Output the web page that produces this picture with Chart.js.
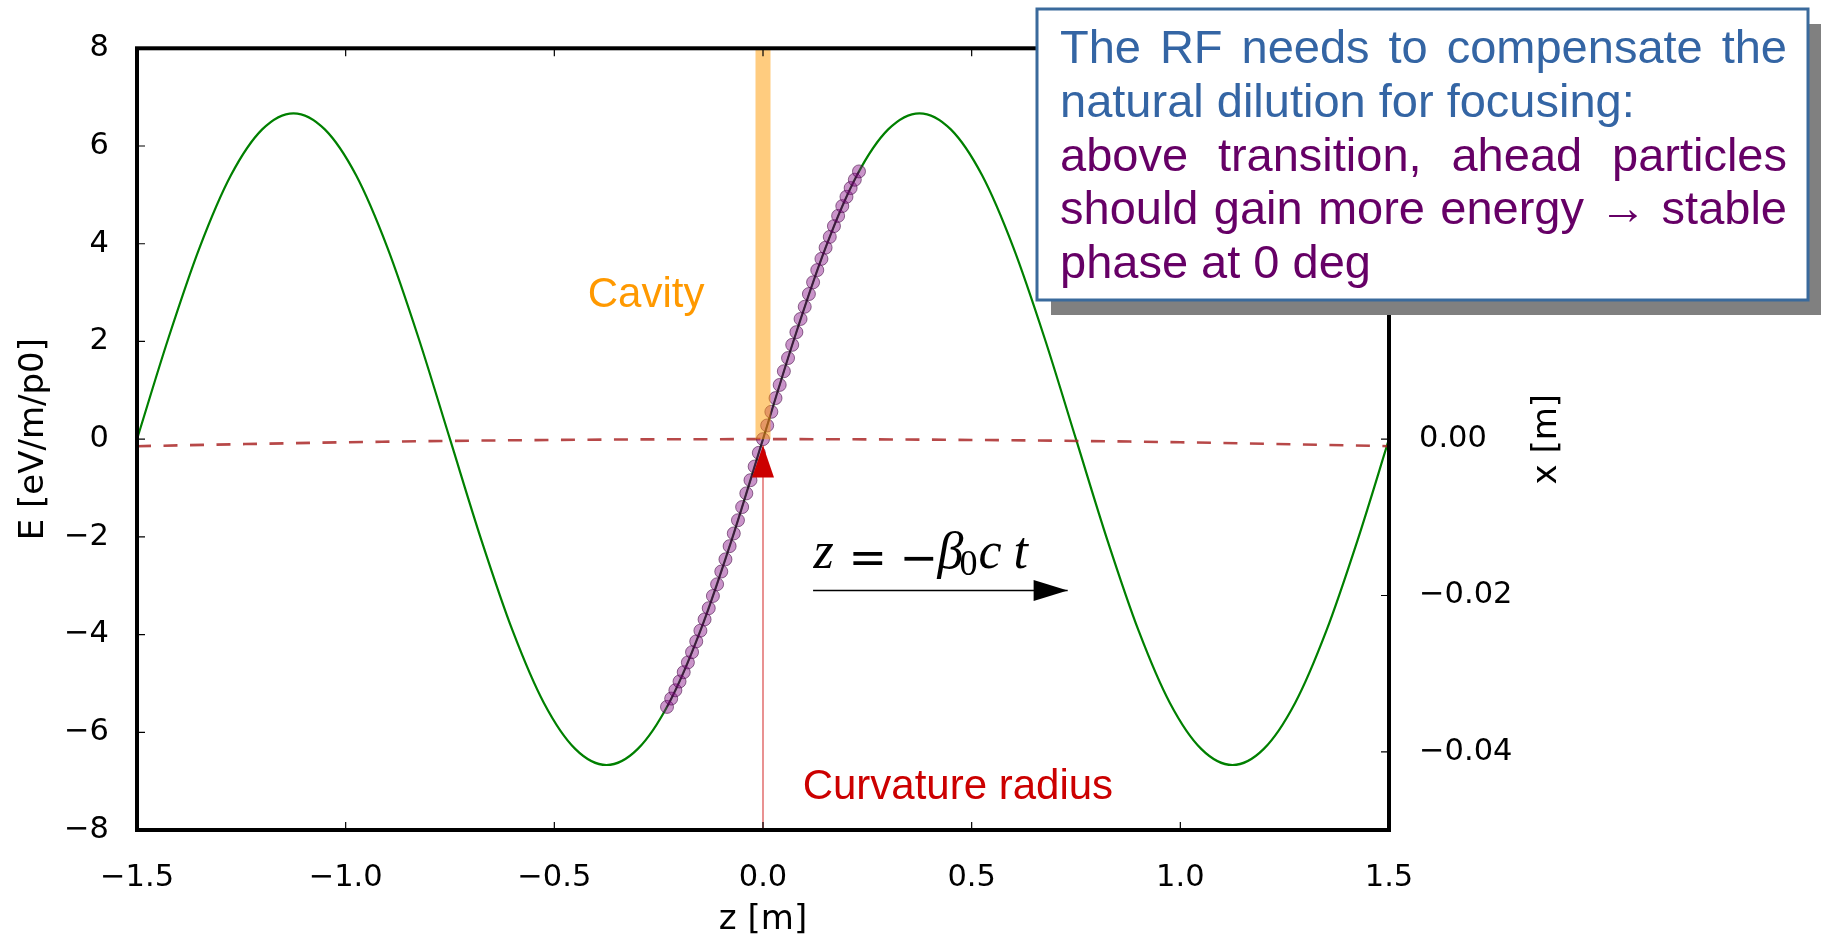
<!DOCTYPE html>
<html>
<head>
<meta charset="utf-8">
<title>RF focusing</title>
<script src="https://cdn.jsdelivr.net/npm/chart.js@4.4.1/dist/chart.umd.min.js"></script>
<style>
  html, body { margin: 0; padding: 0; background: #fff; }
  #wrap { width: 1821px; height: 937px; }
</style>
</head>
<body>
<div id="wrap"><canvas id="rfChart" width="1821" height="937"></canvas></div>
<script>
// RF field seen along the bunch, E [eV/m/p0] vs z [m]
const rfZ = [-1.5, -1.425, -1.35, -1.275, -1.2, -1.125, -1.05, -0.975, -0.9, -0.825,
             -0.75, -0.675, -0.6, -0.525, -0.45, -0.375, -0.3, -0.225, -0.15, -0.075,
             0, 0.075, 0.15, 0.225, 0.3, 0.375, 0.45, 0.525, 0.6, 0.675,
             0.75, 0.825, 0.9, 0.975, 1.05, 1.125, 1.2, 1.275, 1.35, 1.425, 1.5];
const rfE = [0, 2.06, 3.92, 5.40, 6.34, 6.67, 6.34, 5.40, 3.92, 2.06,
             0, -2.06, -3.92, -5.40, -6.34, -6.67, -6.34, -5.40, -3.92, -2.06,
             0, 2.06, 3.92, 5.40, 6.34, 6.67, 6.34, 5.40, 3.92, 2.06,
             0, -2.06, -3.92, -5.40, -6.34, -6.67, -6.34, -5.40, -3.92, -2.06, 0];

// reference orbit x [m] (right axis), bent with the curvature radius
const orbitZ = [-1.5, -1.0, -0.5, 0, 0.5, 1.0, 1.5];
const orbitX = [-0.0009, -0.0004, -0.0001, 0, -0.0001, -0.0004, -0.0009];

// macro-particles sitting on the RF wave
const bunchZ = [-0.23, -0.22, -0.21, -0.20, -0.19, -0.18, -0.17, -0.16, -0.15, -0.14,
                -0.13, -0.12, -0.11, -0.10, -0.09, -0.08, -0.07, -0.06, -0.05, -0.04,
                -0.03, -0.02, -0.01, 0, 0.01, 0.02, 0.03, 0.04, 0.05, 0.06,
                0.07, 0.08, 0.09, 0.10, 0.11, 0.12, 0.13, 0.14, 0.15, 0.16,
                0.17, 0.18, 0.19, 0.20, 0.21, 0.22, 0.23];
const bunchE = [-5.48, -5.31, -5.14, -4.96, -4.77, -4.57, -4.36, -4.14, -3.92, -3.69,
                -3.46, -3.21, -2.97, -2.71, -2.46, -2.19, -1.93, -1.66, -1.39, -1.11,
                -0.84, -0.56, -0.28, 0, 0.28, 0.56, 0.84, 1.11, 1.39, 1.66,
                1.93, 2.19, 2.46, 2.71, 2.97, 3.21, 3.46, 3.69, 3.92, 4.14,
                4.36, 4.57, 4.77, 4.96, 5.14, 5.31, 5.48];

// cavity location and the curvature-radius arrow (tail, tip)
const cavityZ = [0, 0];
const cavityE = [0, 8];
const radiusZ = [0, 0];
const radiusE = [-8, -0.13];

// direction of motion arrow (tail, tip)
const beamZ = [0.12, 0.73];
const beamE = [-3.1, -3.1];

// tick labels
const zTicks = [-1.5, -1.0, -0.5, 0.0, 0.5, 1.0, 1.5];
const eTicks = [-8, -6, -4, -2, 0, 2, 4, 6, 8];
const xTicks = [-0.04, -0.02, 0.00, 0.02, 0.04];

const pts = (xs, ys) => xs.map((v, i) => ({ x: v, y: ys[i] }));
const minus = s => s.replace('-', '\u2212');

const TICK_FONT = { family: 'DejaVu Sans', size: 30.5 };

const decorPlugin = {
  id: 'decor',
  afterDatasetsDraw(chart) {
    const { ctx, chartArea: a, scales } = chart;
    const sx = scales.x, sy = scales.y, sr = scales.y2;
    ctx.save();

    // curvature radius arrow head
    let tx = sx.getPixelForValue(radiusZ[1]);
    let ty = sy.getPixelForValue(radiusE[1]);
    ctx.fillStyle = '#cc0000';
    ctx.beginPath();
    ctx.moveTo(tx, ty);
    ctx.lineTo(tx - 11, ty + 32);
    ctx.lineTo(tx + 11, ty + 32);
    ctx.closePath();
    ctx.fill();

    // beam direction arrow head
    tx = sx.getPixelForValue(beamZ[1]);
    ty = sy.getPixelForValue(beamE[1]);
    ctx.fillStyle = '#000';
    ctx.beginPath();
    ctx.moveTo(tx, ty);
    ctx.lineTo(tx - 34, ty - 10.5);
    ctx.lineTo(tx - 34, ty + 10.5);
    ctx.closePath();
    ctx.fill();

    // inward ticks
    ctx.strokeStyle = '#000';
    ctx.lineWidth = 1.2;
    ctx.beginPath();
    zTicks.forEach(v => {
      const p = sx.getPixelForValue(v);
      ctx.moveTo(p, a.bottom); ctx.lineTo(p, a.bottom - 8);
      ctx.moveTo(p, a.top); ctx.lineTo(p, a.top + 8);
    });
    eTicks.forEach(v => {
      const p = sy.getPixelForValue(v);
      ctx.moveTo(a.left, p); ctx.lineTo(a.left + 8, p);
    });
    xTicks.forEach(v => {
      const p = sr.getPixelForValue(v);
      ctx.moveTo(a.right, p); ctx.lineTo(a.right - 8, p);
    });
    ctx.stroke();

    // frame
    ctx.lineWidth = 4;
    ctx.strokeRect(a.left, a.top, a.right - a.left, a.bottom - a.top);

    // annotations
    ctx.textAlign = 'left';
    ctx.textBaseline = 'alphabetic';
    ctx.font = '42px "Liberation Sans", Arial, sans-serif';
    ctx.fillStyle = '#ff9900';
    ctx.fillText('Cavity', sx.getPixelForValue(-0.42), sy.getPixelForValue(2.7));
    ctx.fillStyle = '#cc0000';
    ctx.fillText('Curvature radius', sx.getPixelForValue(0.095), sy.getPixelForValue(-7.37));

    // z = -beta0 c t
    const fx = sx.getPixelForValue(0.121);
    const fy = sy.getPixelForValue(-2.63);
    ctx.fillStyle = '#000';
    ctx.font = 'italic 52px "Liberation Serif", serif';
    ctx.fillText('z', fx, fy);
    ctx.fillText('\u03b2', fx + 124, fy);
    ctx.fillText('c', fx + 165, fy);
    ctx.fillText('t', fx + 200, fy);
    ctx.font = '46px "DejaVu Sans", sans-serif';
    ctx.fillText('=', fx + 35, fy + 5);
    ctx.fillText('\u2212', fx + 86, fy + 5);
    ctx.font = '36px "Liberation Serif", serif';
    ctx.fillText('0', fx + 146, fy + 7);

    // axis titles
    ctx.font = '34px "DejaVu Sans", sans-serif';
    ctx.textAlign = 'center';
    const midY = (a.top + a.bottom) / 2;
    ctx.fillText('z [m]', (a.left + a.right) / 2, a.bottom + 99);
    ctx.save();
    ctx.translate(a.left - 94, midY);
    ctx.rotate(-Math.PI / 2);
    ctx.fillText('E [eV/m/p0]', 0, 0);
    ctx.restore();
    ctx.save();
    ctx.translate(a.right + 167, midY);
    ctx.rotate(-Math.PI / 2);
    ctx.fillText('x [m]', 0, 0);
    ctx.restore();

    ctx.restore();
  },
  afterDraw(chart) {
    const ctx = chart.ctx;
    const bx = 1037, by = 9, bw = 771, bh = 291;
    ctx.save();
    // box with drop shadow
    ctx.fillStyle = '#808080';
    ctx.fillRect(bx + 14, by + 15, bw, bh);
    ctx.fillStyle = '#fff';
    ctx.fillRect(bx, by, bw, bh);
    ctx.strokeStyle = '#3a6a9c';
    ctx.lineWidth = 3;
    ctx.strokeRect(bx, by, bw, bh);

    const lines = [
      { text: 'The RF needs to compensate the', color: '#3465a4', justify: true },
      { text: 'natural dilution for focusing:', color: '#3465a4', justify: false },
      { text: 'above transition, ahead particles', color: '#660066', justify: true },
      { text: 'should gain more energy \u2192 stable', color: '#660066', justify: true },
      { text: 'phase at 0 deg', color: '#660066', justify: false }
    ];
    // full lines are justified, paragraph ends are set ragged
    const x0 = 1060, x1 = 1787;
    ctx.font = '47px "Liberation Sans", Arial, sans-serif';
    ctx.textAlign = 'left';
    ctx.textBaseline = 'alphabetic';
    const space = ctx.measureText(' ').width;
    lines.forEach((ln, i) => {
      const y = 63 + 53.8 * i;
      ctx.fillStyle = ln.color;
      const words = ln.text.split(' ');
      const widths = words.map(w => ctx.measureText(w).width);
      const gap = ln.justify
        ? (x1 - x0 - widths.reduce((s, w) => s + w, 0)) / (words.length - 1)
        : space;
      let x = x0;
      words.forEach((w, k) => {
        ctx.fillText(w, x, y);
        x += widths[k] + gap;
      });
    });
    ctx.restore();
  }
};

new Chart(document.getElementById('rfChart'), {
  type: 'scatter',
  data: {
    datasets: [
      {
        label: 'RF',
        data: pts(rfZ, rfE),
        yAxisID: 'y',
        showLine: true,
        borderColor: '#008000',
        borderWidth: 2.2,
        pointRadius: 0,
        cubicInterpolationMode: 'monotone',
        order: 6
      },
      {
        label: 'orbit',
        data: pts(orbitZ, orbitX),
        yAxisID: 'y2',
        showLine: true,
        borderColor: 'rgba(170,40,40,0.85)',
        borderWidth: 2.6,
        borderDash: [14, 12.5],
        pointRadius: 0,
        cubicInterpolationMode: 'monotone',
        order: 5
      },
      {
        label: 'bunch',
        data: pts(bunchZ, bunchE),
        yAxisID: 'y',
        showLine: true,
        borderColor: 'rgba(30,0,30,0.7)',
        borderWidth: 1.5,
        pointRadius: 6.5,
        pointBackgroundColor: 'rgba(128,0,128,0.42)',
        pointBorderColor: 'rgba(60,0,60,0.55)',
        pointBorderWidth: 1,
        order: 4
      },
      {
        label: 'cavity',
        data: pts(cavityZ, cavityE),
        yAxisID: 'y',
        showLine: true,
        borderColor: 'rgba(255,153,0,0.5)',
        borderWidth: 15,
        borderCapStyle: 'butt',
        pointRadius: 0,
        order: 3
      },
      {
        label: 'radius',
        data: pts(radiusZ, radiusE),
        yAxisID: 'y',
        showLine: true,
        borderColor: 'rgba(210,30,30,0.75)',
        borderWidth: 1.3,
        pointRadius: 0,
        order: 2
      },
      {
        label: 'direction',
        data: pts(beamZ, beamE),
        yAxisID: 'y',
        showLine: true,
        borderColor: '#000',
        borderWidth: 1.5,
        pointRadius: 0,
        order: 1
      }
    ]
  },
  options: {
    responsive: false,
    animation: false,
    events: [],
    layout: { padding: { top: 47, left: 0, right: 0, bottom: 0 } },
    plugins: { legend: { display: false }, tooltip: { enabled: false } },
    scales: {
      x: {
        type: 'linear',
        position: 'bottom',
        min: -1.5,
        max: 1.5,
        grid: { display: false, drawTicks: false },
        border: { display: false },
        afterBuildTicks: s => { s.ticks = zTicks.map(v => ({ value: v })); },
        afterFit: s => { s.height = 107; },
        ticks: {
          font: TICK_FONT,
          color: '#000',
          padding: 30,
          maxRotation: 0,
          autoSkip: false,
          callback: v => minus(v.toFixed(1))
        }
      },
      y: {
        type: 'linear',
        position: 'left',
        min: -8,
        max: 8,
        grid: { display: false, drawTicks: false },
        border: { display: false },
        afterBuildTicks: s => { s.ticks = eTicks.map(v => ({ value: v })); },
        afterFit: s => { s.width = 137; },
        ticks: {
          font: TICK_FONT,
          color: '#000',
          padding: 28,
          autoSkip: false,
          callback: v => minus(String(v))
        }
      },
      y2: {
        type: 'linear',
        axis: 'y',
        position: 'right',
        min: -0.05,
        max: 0.05,
        grid: { display: false, drawTicks: false },
        border: { display: false },
        afterBuildTicks: s => { s.ticks = xTicks.map(v => ({ value: v })); },
        afterFit: s => { s.width = 432; },
        ticks: {
          font: TICK_FONT,
          color: '#000',
          padding: 30,
          autoSkip: false,
          callback: v => minus(v.toFixed(2))
        }
      }
    }
  },
  plugins: [decorPlugin]
});
</script>
</body>
</html>
